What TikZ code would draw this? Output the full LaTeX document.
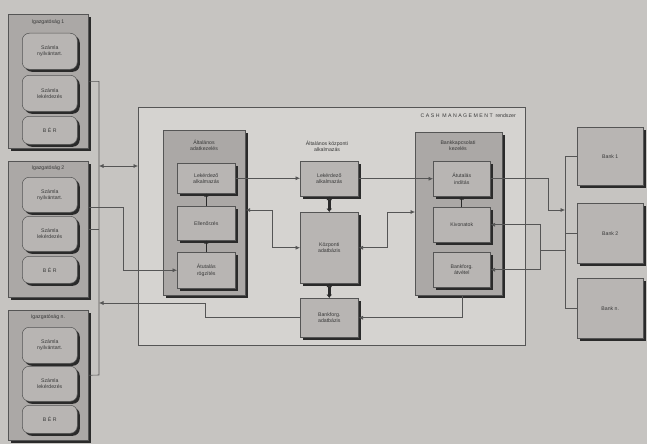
\documentclass[tikz,border=0pt]{standalone}
\usepackage{fontspec}
\setmainfont{Liberation Sans}
\usetikzlibrary{arrows.meta,shadows,calc}
\definecolor{bgc}{HTML}{C6C4C1}
\definecolor{cmc}{HTML}{D5D3D0}
\definecolor{grpc}{HTML}{ABA8A6}
\definecolor{inc}{HTML}{B8B5B3}
\definecolor{shc}{HTML}{2A2A2A}
\definecolor{txc}{HTML}{383838}
\definecolor{lnc}{HTML}{555555}
\tikzset{
  base/.style={anchor=north west, inner sep=1pt, align=center, text=txc,
    font=\fontsize{5.2}{6.2}\selectfont},
  grpbox/.style={base, draw=lnc, line width=0.6pt, fill=grpc,
    general shadow={fill=shc, shadow xshift=3pt, shadow yshift=-3pt}},
  inbox/.style={base, draw=lnc, line width=0.5pt, fill=inc,
    general shadow={fill=shc, shadow xshift=2.5pt, shadow yshift=-2.5pt}},
  rbox/.style={inbox, rounded corners=7pt},
  cmbox/.style={base, draw=lnc, line width=0.7pt, fill=cmc,
    general shadow={fill=lnc, shadow xshift=1pt, shadow yshift=-1pt}},
  ttl/.style={text=txc, align=center, font=\fontsize{5.2}{6.2}\selectfont, inner sep=0pt},
  conn/.style={draw=lnc, line width=0.6pt},
  arr/.style={conn, -{Latex[length=4.5pt,width=4pt]}},
  darr/.style={conn, {Latex[length=4.5pt,width=4pt]}-{Latex[length=4.5pt,width=4pt]}},
  fat/.style={draw=shc, line width=3pt, {Latex[length=3.5pt,width=6pt]}-{Latex[length=3.5pt,width=6pt]}},
  small/.style={draw=shc, line width=1.2pt, -{Latex[length=3pt,width=4.5pt]}}
}
\begin{document}
\begin{tikzpicture}[x=1pt,y=-1pt]
\useasboundingbox (0,0) rectangle (647,444);
\fill[bgc] (0,0) rectangle (647,444);

% left column
\node[grpbox, minimum width=80pt, minimum height=134pt] (I1) at (8,14) {};
\node[grpbox, minimum width=80pt, minimum height=136pt] (I2) at (8,161) {};
\node[grpbox, minimum width=80pt, minimum height=130pt] (In) at (8,310) {};
\node[ttl] (t1) at (48,22) {Igazgatóság 1};
\node[ttl] (t2) at (48,168) {Igazgatóság 2};
\node[ttl] (tn) at (48,317) {Igazgatóság n.};

\node[rbox, minimum width=55pt, minimum height=36pt] (I1a) at (22,33) {Számla\\nyilvántart.};
\node[rbox, minimum width=55pt, minimum height=36pt] (I1b) at (22,75) {Számla\\lekérdezés};
\node[rbox, minimum width=55pt, minimum height=28pt] (I1c) at (22,116) {B É R};
\node[rbox, minimum width=55pt, minimum height=35pt] (I2a) at (22,177) {Számla\\nyilvántart.};
\node[rbox, minimum width=55pt, minimum height=35pt] (I2b) at (22,216) {Számla\\lekérdezés};
\node[rbox, minimum width=55pt, minimum height=27pt] (I2c) at (22,256) {B É R};
\node[rbox, minimum width=55pt, minimum height=36pt] (Ina) at (22,327) {Számla\\nyilvántart.};
\node[rbox, minimum width=55pt, minimum height=35pt] (Inb) at (22,366) {Számla\\lekérdezés};
\node[rbox, minimum width=55pt, minimum height=28pt] (Inc) at (22,405) {B É R};

% container
\node[cmbox, minimum width=387pt, minimum height=238pt] (CM) at (138,107) {};
\node[ttl, anchor=east] (cmt) at (516,116) {C A S H \ M A N A G E M E N T \ rendszer};

% left group
\node[grpbox, minimum width=82pt, minimum height=165pt] (LG) at (163,130) {};
\node[ttl] (lgt) at (204,145) {Általános\\adatkezelés};
\node[inbox, minimum width=58pt, minimum height=30pt] (LA) at (177,163) {Lekérdező\\alkalmazás};
\node[inbox, minimum width=58pt, minimum height=34pt] (EL) at (177,206) {Ellenőrzés};
\node[inbox, minimum width=58pt, minimum height=36pt] (AR) at (177,252) {Átutalás\\rögzítés};

% middle column
\node[ttl] (mt) at (327,146) {Általános központi\\alkalmazás};
\node[inbox, minimum width=58pt, minimum height=35pt] (ML) at (300,161) {Lekérdező\\alkalmazás};
\node[inbox, minimum width=58pt, minimum height=71pt] (KA) at (300,212) {Központi\\adatbázis};
\node[inbox, minimum width=58pt, minimum height=39pt] (BA) at (300,298) {Bankforg.\\adatbázis};

% right group
\node[grpbox, minimum width=87pt, minimum height=163pt] (RG) at (415,132) {};
\node[ttl] (rgt) at (458,146) {Bankkapcsolati\\kezelés};
\node[inbox, minimum width=57pt, minimum height=35pt] (AI) at (433,161) {Átutalás\\indítás};
\node[inbox, minimum width=57pt, minimum height=35pt] (KV) at (433,207) {Kivonatok};
\node[inbox, minimum width=57pt, minimum height=35pt] (BV) at (433,252) {Bankforg.\\átvétel};

% banks
\node[inbox, minimum width=66pt, minimum height=58pt] (B1) at (577,127) {Bank 1};
\node[inbox, minimum width=66pt, minimum height=60pt] (B2) at (577,203) {Bank 2};
\node[inbox, minimum width=66pt, minimum height=60pt] (Bn) at (577,278) {Bank n.};

% coordinates
\coordinate (busT) at (99,81);
\coordinate (busB) at (99,375);
\coordinate (ba) at (99,166);
\coordinate (j1) at (123,207);
\coordinate (m1) at (272,210);
\coordinate (m2) at (387,212);
\coordinate (m3) at (205,303);
\coordinate (m4) at (462,0);
\coordinate (m5) at (548,210);
\coordinate (m6) at (540,250);
\coordinate (bb) at (565,0);

% left bus
\draw[conn] (I1.east) -- (I1.east -| busT) -- (busB) -- (In.east);
\draw[conn] (I2.east) -- (I2.east -| busT);
\draw[darr] (ba) -- (ba -| CM.west);
\draw[arr] (I2.east |- j1) -- (j1) |- (AR.west);

% left group internal
\draw[small] (AR.north) -- (EL.south);
\draw[small] (EL.north) -- (LA.south);

% horizontal flows
\draw[arr] (LA.east) -- (LA.east -| ML.west);
\draw[arr] (ML.east) -- (ML.east -| AI.west);
\draw[darr] (m1 -| LG.east) -- (m1) |- (KA.west);
\draw[darr] (KA.east) -| (m2) -- (m2 -| RG.west);
\draw[arr] (BA.west) -| (m3) -- (m3 -| busT);
\draw[arr] (m4 |- RG.south) -- (m4 |- BA.east) -- (BA.east);

% middle thick arrows
\draw[fat] (ML.south) -- (KA.north);
\draw[fat] (KA.south) -- (BA.north);

% right group internal
\draw[small] (KV.north) -- (AI.south);

% bank bus
\draw[conn] (B1.west) -- (B1.west -| bb) -- (Bn.west -| bb) -- (Bn.west);
\draw[conn] (B2.west) -- (B2.west -| bb);
\draw[arr] (AI.east) -| (m5) -- (m5 -| bb);
\draw[conn] (m6 -| bb) -- (m6);
\draw[arr] (m6) |- (KV.east);
\draw[arr] (m6) |- (BV.east);
\end{tikzpicture}
\end{document}
